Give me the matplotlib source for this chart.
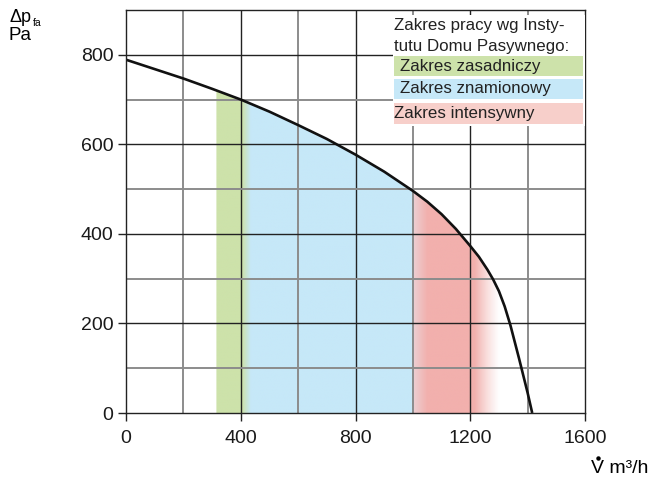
import numpy as np
import matplotlib
matplotlib.use("Agg")
import matplotlib.pyplot as plt
from matplotlib.patches import Polygon, Rectangle
from matplotlib.lines import Line2D
from matplotlib.colors import to_rgb

plt.rcParams['font.family'] = ['Liberation Sans', 'DejaVu Sans']

# Fan characteristic: airflow [m3/h] vs. static pressure [Pa]
flow = [0, 100, 200, 300, 400, 500, 600, 700, 800, 900, 1000, 1050, 1100,
        1150, 1200, 1230, 1260, 1280, 1300, 1320, 1340, 1370, 1400, 1416]
pressure = [789, 768, 747, 724, 700, 673, 643, 612, 577, 539, 496, 472, 444,
            411, 373, 349, 320, 298, 272, 238, 196, 122, 45, 0]

# Operating ranges (m3/h)
base_range = (315, 420)      # Zakres zasadniczy
nominal_range = (420, 1000)  # Zakres znamionowy
intense_range = (1000, 1300) # Zakres intensywny

x_ticks = [0, 400, 800, 1200, 1600]
y_ticks = [0, 200, 400, 600, 800]

green = np.array(to_rgb('#cde2aa'))
blue = np.array(to_rgb('#c6e8f8'))
pink = np.array(to_rgb('#f2b0ad'))
pale_pink = np.array(to_rgb('#ecd0d4'))
legend_pink = '#f7cfca'

fig = plt.figure(figsize=(6.56, 4.8), dpi=100)
ax = fig.add_axes([126/656, 1 - 413/480, 459/656, 403/480])
ax.set_xlim(0, 1600)
ax.set_ylim(0, 900)

# grid: dark major lines, grey minor lines
for x in range(200, 1600, 200):
    major = x % 400 == 0
    ax.axvline(x, color='#222222' if major else '#8c8c8c',
               lw=1.0 if major else 1.4, zorder=1)
for y in range(100, 900, 100):
    major = y % 200 == 0
    ax.axhline(y, color='#222222' if major else '#8c8c8c',
               lw=1.0 if major else 1.4, zorder=1)

# colour band below the curve, shaded along the airflow axis
x0, x1 = 300, 1320
cols = np.linspace(x0, x1, 1200)
img = np.zeros((2, cols.size, 4))
for i, q in enumerate(cols):
    a = 1.0
    if q < base_range[0]:
        c, a = green, 0.0
    elif q < base_range[1] - 15:
        c = green
    elif q < base_range[1] + 15:
        t = (q - (base_range[1] - 15)) / 30
        c = green * (1 - t) + blue * t
    elif q < nominal_range[1]:
        c = blue
    elif q < intense_range[0] + 50:
        t = (q - intense_range[0]) / 50
        c = pale_pink * (1 - t) + pink * t
    elif q < intense_range[1] - 85:
        c = pink
    elif q < intense_range[1]:
        t = (q - (intense_range[1] - 85)) / 85
        c = pink * (1 - t) + np.ones(3) * t
        a = 1 - t * 0.3
    else:
        c, a = np.ones(3), 0.0
    img[:, i, :3] = c
    img[:, i, 3] = a
im = ax.imshow(img, extent=[x0, x1, 0, 900], aspect='auto', origin='lower',
               interpolation='bilinear', zorder=0.5)
under = Polygon(list(zip(flow, pressure)) + [(0, 0)], closed=True,
                transform=ax.transData, facecolor='none', edgecolor='none')
ax.add_patch(under)
im.set_clip_path(under)

ax.plot(flow, pressure, color='#111111', lw=1.9, zorder=4,
        solid_joinstyle='round', solid_capstyle='butt')

for s in ax.spines.values():
    s.set_color('#222222')
    s.set_linewidth(1.0)
    s.set_zorder(5)

ax.set_xticks(x_ticks)
ax.set_yticks(y_ticks)
ax.tick_params(direction='out', length=6, width=1.0, color='#222222',
               labelsize=14, pad=3, labelcolor='#1a1a1a')
ax.tick_params(axis='x', pad=6.5)

# legend panel
ax.add_patch(Rectangle((0.582, 0.712), 0.418, 0.276, transform=ax.transAxes,
                       facecolor='white', edgecolor='none', zorder=6))
ax.text(0.584, 0.962, 'Zakres pracy wg Insty-', transform=ax.transAxes,
        fontsize=12.2, va='center', ha='left', color='#222222', zorder=7)
ax.text(0.584, 0.909, 'tutu Domu Pasywnego:', transform=ax.transAxes,
        fontsize=12.2, va='center', ha='left', color='#222222', zorder=7)
entries = [('Zakres zasadniczy', '#cde2aa', 0.836, 0.597),
           ('Zakres znamionowy', '#c6e8f8', 0.779, 0.597),
           ('Zakres intensywny', legend_pink, 0.717, 0.584)]
for label, col, yb, xt in entries:
    ax.add_patch(Rectangle((0.584, yb), 0.412, 0.051, transform=ax.transAxes,
                           facecolor=col, edgecolor='none', zorder=7))
    ax.text(xt, yb + 0.025, label, transform=ax.transAxes, fontsize=12.2,
            va='center', ha='left', color='#222222', zorder=8)

# axis titles
fig.text(9/656, 1 - 21.5/480, 'Δp', fontsize=13, ha='left', va='baseline')
fig.text(33/656, 1 - 26/480, 'fa', fontsize=7.5, ha='left', va='baseline')
fig.text(9/656, 1 - 39.5/480, 'Pa', fontsize=13.5, ha='left', va='baseline')
fig.text(591/656, 1 - 473/480, 'V m³/h', fontsize=14, ha='left',
         va='baseline')
fig.add_artist(Line2D([597.5/656], [1 - 457.5/480], marker='o', markersize=2.2,
                      color='black', transform=fig.transFigure))

fig.savefig('out.png', dpi=100)
